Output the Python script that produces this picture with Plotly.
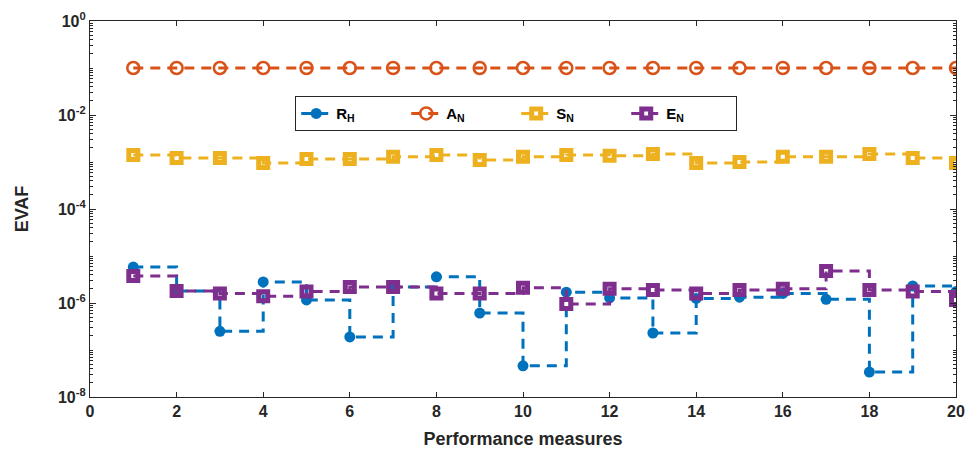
import plotly.graph_objects as go

# Performance measure index
measures = list(range(1, 21))

# EVAF per measure for each method
r_h = [5.8e-6, 1.8e-6, 2.5e-7, 2.8e-6, 1.16e-6, 1.9e-7, 2.2e-6, 3.6e-6, 6.1e-7, 4.6e-8,
       1.7e-6, 1.28e-6, 2.3e-7, 1.25e-6, 1.33e-6, 1.6e-6, 1.2e-6, 3.4e-8, 2.3e-6, 1.75e-6]
a_n = [0.1] * 20
s_n = [1.41e-3, 1.22e-3, 1.22e-3, 9.5e-4, 1.16e-3, 1.16e-3, 1.29e-3, 1.41e-3, 1.10e-3, 1.29e-3,
       1.41e-3, 1.35e-3, 1.48e-3, 9.5e-4, 1.0e-3, 1.29e-3, 1.29e-3, 1.48e-3, 1.22e-3, 9.5e-4]
e_n = [3.75e-6, 1.8e-6, 1.6e-6, 1.4e-6, 1.75e-6, 2.2e-6, 2.2e-6, 1.6e-6, 1.6e-6, 2.1e-6,
       9.5e-7, 2.0e-6, 1.9e-6, 1.6e-6, 1.9e-6, 2.0e-6, 4.8e-6, 1.9e-6, 1.75e-6, 1.16e-6]

# y-axis decade ticks
y_ticks = [1e-8, 1e-6, 1e-4, 1e-2, 1e0]
y_ticktext = ["10<sup>-8</sup>", "10<sup>-6</sup>", "10<sup>-4</sup>",
              "10<sup>-2</sup>", "10<sup>0</sup>"]

names = ["R<sub>H</sub>", "A<sub>N</sub>", "S<sub>N</sub>", "E<sub>N</sub>"]
series = [r_h, a_n, s_n, e_n]
colors = ["#0072BD", "#D95319", "#EDB120", "#7E2F8E"]
symbols = ["circle", "circle-open", "square-open", "square-open"]
sizes = [11, 12, 9, 9]
mlw = [0, 2.5, 5, 5]

fig = go.Figure()
for name, ys, col, sym, sz, lw in zip(names, series, colors, symbols, sizes, mlw):
    fig.add_trace(go.Scatter(
        x=measures, y=ys, name=name, mode="lines+markers",
        line=dict(color=col, width=3, dash="10px,7px", shape="hv"),
        marker=dict(symbol=sym, size=sz, color=col,
                    line=dict(color=col, width=lw)),
    ))

font_fam = "Liberation Sans, Arial, sans-serif"
axis_common = dict(
    showline=True, linecolor="#262626", linewidth=1.2, mirror="allticks",
    ticks="inside", tickcolor="#262626", showgrid=False, zeroline=False,
    automargin=False,
    tickfont=dict(family=font_fam, size=16, color="#262626", weight="bold"),
)

fig.update_layout(
    width=970, height=455,
    margin=dict(l=90, r=14, t=21, b=58, autoexpand=False),
    paper_bgcolor="white", plot_bgcolor="white",
    font=dict(family=font_fam, color="#262626"),
    showlegend=True,
    legend=dict(
        orientation="h", x=0.237, y=0.80, xanchor="left", yanchor="top",
        bordercolor="#262626", borderwidth=1, bgcolor="white",
        font=dict(family=font_fam, size=15, color="#000000", weight="bold"),
        entrywidth=65, entrywidthmode="pixels", tracegroupgap=0,
    ),
    xaxis=dict(
        range=[0, 20], dtick=2, tick0=0, ticklen=5,
        title=dict(text="<b>Performance measures</b>", standoff=13,
                   font=dict(family=font_fam, size=18, color="#262626")),
        **axis_common,
    ),
    yaxis=dict(
        type="log", range=[-8, 0], tickvals=y_ticks, ticktext=y_ticktext, ticklen=6,
        minor=dict(ticks="inside", ticklen=3, dtick="D1", tickcolor="#262626"),
        title=dict(text="<b>EVAF</b>", standoff=24,
                   font=dict(family=font_fam, size=18, color="#262626")),
        **axis_common,
    ),
)

fig.write_html("out.html")
